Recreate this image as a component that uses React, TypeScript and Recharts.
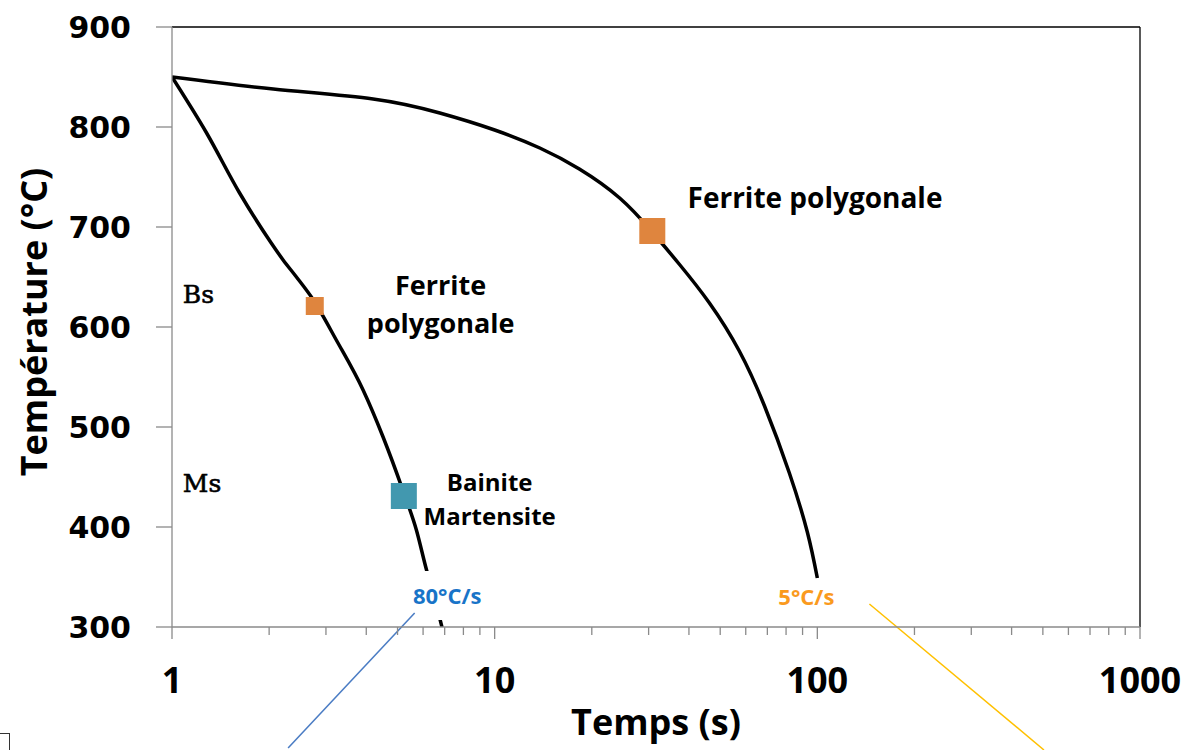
import { ComposedChart, Line, Scatter, XAxis, YAxis, ReferenceLine, ReferenceDot, Label } from 'recharts';

// cooling curves (time in s, temperature in °C)
const fastCurve = [
  { time: 1, temp: 850 }, { time: 1.28, temp: 794 }, { time: 1.62, temp: 734 },
  { time: 2.03, temp: 684 }, { time: 2.21, temp: 667 }, { time: 2.43, temp: 650 },
  { time: 2.73, temp: 628 }, { time: 3.23, temp: 587 }, { time: 3.91, temp: 537 },
  { time: 4.51, temp: 490 }, { time: 5.19, temp: 437 }, { time: 5.72, temp: 397 },
  { time: 6.15, temp: 357 }, { time: 6.5, temp: 330 }, { time: 6.9, temp: 297 },
];
const slowCurve = [
  { time: 1, temp: 850 }, { time: 2.06, temp: 838 }, { time: 4.2, temp: 828 },
  { time: 6.76, temp: 814 }, { time: 10, temp: 797 }, { time: 13.8, temp: 779 },
  { time: 18.3, temp: 758 }, { time: 24.4, temp: 729 }, { time: 30.6, temp: 696 },
  { time: 37.3, temp: 663 }, { time: 46.3, temp: 624 }, { time: 57.3, temp: 576 },
  { time: 68.6, temp: 521 }, { time: 81.9, temp: 454 }, { time: 93.1, temp: 395 },
  { time: 100, temp: 349 },
];
const bsPoint = [{ time: 2.77, temp: 621 }];
const ferritePoint = [{ time: 30.8, temp: 696 }];
const bainitePoint = [{ time: 5.23, temp: 431 }];

const xTicks = [1, 2, 3, 4, 5, 6, 7, 8, 9, 10, 20, 30, 40, 50, 60, 70, 80, 90, 100, 200, 300, 400, 500, 600, 700, 800, 900, 1000];
const xMajor = [1, 10, 100, 1000];
const yTicks = [300, 400, 500, 600, 700, 800, 900];

const blueLeader = [{ x: 5.65, y: 314 }, { x: 2.29, y: 179 }];
const yellowLeader = [{ x: 145, y: 323 }, { x: 504, y: 177 }];

const FONT = '"Open Sans", sans-serif';

function XTick(props: any) {
  const { x, y, payload } = props;
  const major = xMajor.includes(payload.value);
  return (
    <g>
      <line x1={x} x2={x} y1={y} y2={y + (major ? 12 : 8)} stroke="#8a8a8a" strokeWidth={1.3} />
      {major && (
        <text x={x} y={y + 66} textAnchor="middle" fontFamily={FONT} fontWeight={700} fontSize={36} fill="#000">
          {payload.value}
        </text>
      )}
    </g>
  );
}

function YTick(props: any) {
  const { x, y, payload } = props;
  return (
    <g>
      <line x1={x - 16} x2={x} y1={y} y2={y} stroke="#8a8a8a" strokeWidth={1.3} />
      <text x={x - 41} y={y + 11} textAnchor="end" fontFamily='"DejaVu Sans", sans-serif' fontWeight={700} fontSize={30} fill="#000">
        {payload.value}
      </text>
    </g>
  );
}

const square = (size: number, fill: string) => (p: any) =>
  <rect x={p.cx - size / 2} y={p.cy - size / 2} width={size} height={size} fill={fill} />;

const note = (text: string, size: number, anchor: string, opts: any = {}) => (p: any) => (
  <g>
    {opts.box && <rect x={p.cx + 9} y={p.cy - 33} width={42} height={49} fill="#fff" />}
    <text x={p.cx} y={p.cy} textAnchor={anchor} fontFamily={opts.family || FONT} fontWeight={opts.weight ?? 700}
      fontSize={size} fill={opts.color || '#000'} stroke={opts.heavy ? '#000' : 'none'} strokeWidth={opts.heavy ? 0.6 : 0}>
      {text}
    </text>
  </g>
);

const serif = { family: '"DejaVu Serif", serif', weight: 400, heavy: true };

export default function App() {
  return (
    <div style={{ position: 'absolute', left: 0, top: 0, width: 1191, height: 750, background: '#fff', overflow: 'hidden' }}>
      <ComposedChart width={1191} height={750} margin={{ top: 27, right: 51, left: 0, bottom: 0 }}>
        <XAxis dataKey="time" type="number" scale="log" domain={[1, 1000]} allowDataOverflow ticks={xTicks}
          interval={0} tickLine={false} tickSize={0} tickMargin={0} height={123}
          axisLine={{ stroke: '#8a8a8a', strokeWidth: 1.3 }} tick={<XTick />}>
          <Label content={(p: any) => (
            <text x={p.viewBox.x + p.viewBox.width / 2} y={735} textAnchor="middle" fontFamily={FONT}
              fontWeight={700} fontSize={36} fill="#000">Temps (s)</text>
          )} />
        </XAxis>
        <YAxis dataKey="temp" type="number" domain={[300, 900]} allowDataOverflow ticks={yTicks} interval={0}
          tickLine={false} tickSize={0} tickMargin={0} width={172}
          axisLine={{ stroke: '#8a8a8a', strokeWidth: 1.3 }} tick={<YTick />}>
          <Label content={(p: any) => {
            const cy = p.viewBox.y + p.viewBox.height / 2 - 5;
            return (
              <text x={47} y={cy} transform={`rotate(-90, 47, ${cy})`} textAnchor="middle" fontFamily={FONT}
                fontWeight={700} fontSize={36} fill="#000">Température (°C)</text>
            );
          }} />
        </YAxis>
        <ReferenceLine y={900} stroke="#000" strokeWidth={1.3} />
        <ReferenceLine x={1000} stroke="#000" strokeWidth={1.3} />

        <Line data={fastCurve} dataKey="temp" type="monotone" stroke="#000" strokeWidth={3.5} dot={false} isAnimationActive={false} />
        <Line data={slowCurve} dataKey="temp" type="natural" stroke="#000" strokeWidth={3.5} dot={false} isAnimationActive={false} />

        <Scatter data={bsPoint} fill="#DF853E" shape={square(18, '#DF853E')} isAnimationActive={false} />
        <Scatter data={ferritePoint} fill="#DF853E" shape={square(26, '#DF853E')} isAnimationActive={false} />
        <Scatter data={bainitePoint} fill="#4298AF" shape={square(26, '#4298AF')} isAnimationActive={false} />

        <ReferenceDot x={39.6} y={719} r={0} ifOverflow="visible" shape={note('Ferrite polygonale', 28, 'start')} />
        <ReferenceDot x={6.8} y={632} r={0} ifOverflow="visible" shape={note('Ferrite', 27, 'middle')} />
        <ReferenceDot x={6.8} y={594} r={0} ifOverflow="visible" shape={note('polygonale', 27, 'middle')} />
        <ReferenceDot x={9.65} y={436} r={0} ifOverflow="visible" shape={note('Bainite', 24, 'middle')} />
        <ReferenceDot x={9.65} y={402} r={0} ifOverflow="visible" shape={note('Martensite', 24, 'middle')} />
        <ReferenceDot x={1.08} y={624} r={0} ifOverflow="visible" shape={note('Bs', 25, 'start', serif)} />
        <ReferenceDot x={1.08} y={435} r={0} ifOverflow="visible" shape={note('Ms', 25, 'start', serif)} />
        <ReferenceDot x={5.58} y={323} r={0} ifOverflow="visible"
          shape={note('80°C/s', 22, 'start', { color: '#1874C8', box: true })} />
        <ReferenceDot x={75.7} y={322} r={0} ifOverflow="visible" shape={note('5°C/s', 22, 'start', { color: '#FA9A1E' })} />

        <ReferenceLine segment={blueLeader} stroke="#4A7CC4" strokeWidth={1.5} ifOverflow="visible" />
        <ReferenceLine segment={yellowLeader} stroke="#FFC000" strokeWidth={1.5} ifOverflow="visible" />
      </ComposedChart>
      <div style={{ position: 'absolute', left: -10, top: 733, width: 18, height: 20, border: '1px solid #333' }} />
    </div>
  );
}
